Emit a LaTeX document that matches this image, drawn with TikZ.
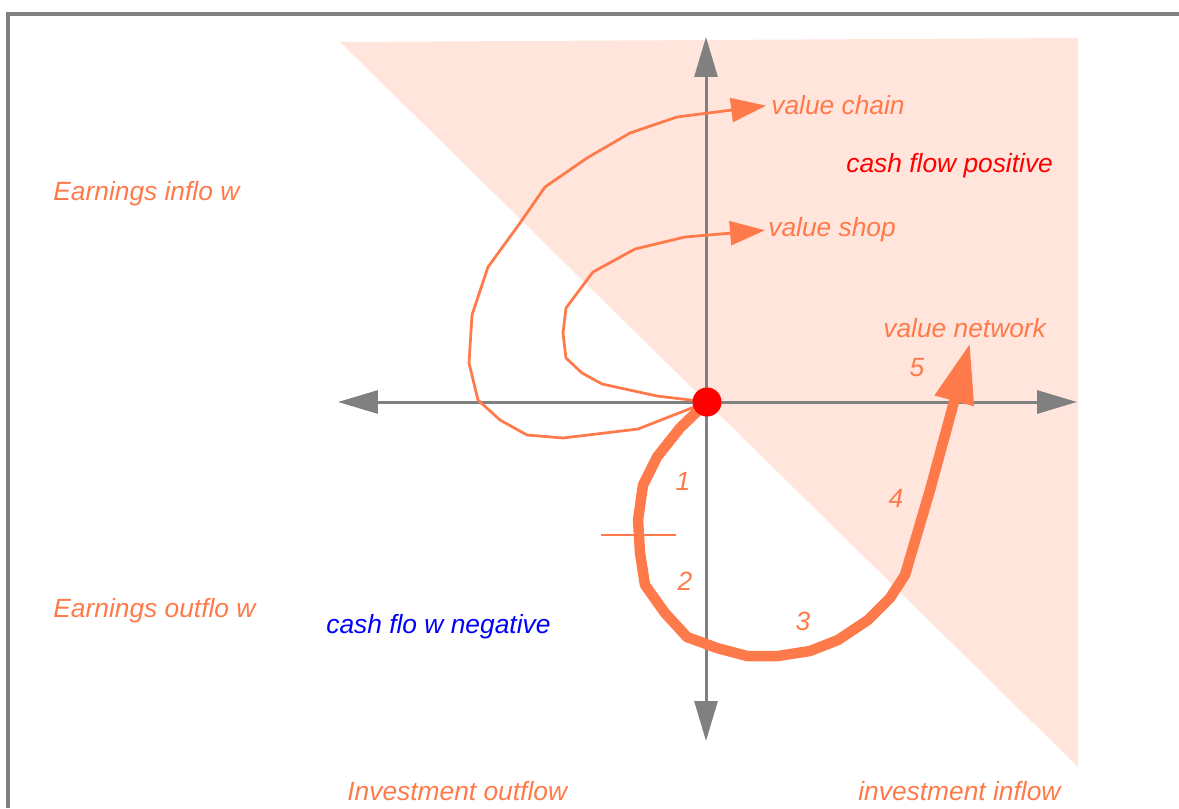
\documentclass[tikz,border=0pt]{standalone}
\usepackage{fontspec}
\setmainfont{Liberation Sans}
\usetikzlibrary{arrows.meta}
\definecolor{flow}{RGB}{255,122,74}
\definecolor{posregion}{RGB}{255,229,220}
\definecolor{axisgrey}{RGB}{128,128,128}

\begin{document}
\begin{tikzpicture}[x=0.02cm, y=-0.02cm,
    axis/.style={axisgrey, line width=0.06cm,
      {Triangle[length=0.8cm,width=0.46cm]}-{Triangle[length=0.8cm,width=0.46cm]}},
    thinflow/.style={flow, line width=0.055cm, line join=round},
    thickflow/.style={flow, line width=0.21cm, line join=bevel},
    lbl/.style={flow, inner sep=0pt, anchor=west, font=\fontsize{15}{18}\selectfont\itshape},
    num/.style={flow, inner sep=0pt, font=\fontsize{15}{18}\selectfont\itshape}]
  \useasboundingbox (0,0) rectangle (1179,808);
  % frame
  \draw[axisgrey, line width=0.08cm] (8,808) -- (8,14) -- (1179,14);
  % positive cash flow region
  \fill[posregion] (340,42) -- (1078,38) -- (1078,767) -- cycle;
  % axes
  \coordinate (W) at (338,402);
  \coordinate (E) at (1077,402);
  \coordinate (N) at (706,37);
  \coordinate (S) at (706,741);
  \draw[axis] (W) -- (E);
  \draw[axis] (N) -- (S);
  \coordinate (O) at (707,402);
  % labels
  \node[lbl] (earnin) at (53,194) {Earnings inflo w};
  \node[lbl] (earnout) at (53,611) {Earnings outflo w};
  \node[lbl, blue] (neg) at (326,627) {cash flo w negative};
  \node[lbl, red] (pos) at (846,166) {cash flow positive};
  \node[lbl] (invout) at (347,791) {Investment outflow};
  \node[lbl] (invin) at (858,791) {investment inflow};
  \node[lbl] (chain) at (771,105) {value chain};
  \node[lbl] (shop) at (768,230) {value shop};
  \node[lbl] (network) at (883,328) {value network};
  \foreach \n/\x/\y in {1/683/481, 2/685/581, 3/803/621, 4/896/498, 5/917/368}
    \node[num] (n\n) at (\x,\y) {\n};
  % value chain and value shop
  \draw[thinflow, -{Triangle[length=0.7cm,width=0.48cm]}, shorten >=0.1cm]
    (O) -- (638,429) -- (563,438) -- (527,435) -- (500,420) -- (478,400)
    -- (469,363) -- (472,315) -- (488,267) -- (520,223) -- (545,187)
    -- (587,158) -- (630,133) -- (677,117) -- (chain.west);
  \draw[thinflow, -{Triangle[length=0.7cm,width=0.48cm]}, shorten >=0.06cm]
    (O) -- (657,396) -- (602,384) -- (582,373) -- (566,358) -- (563,333)
    -- (566,308) -- (593,272) -- (635,249) -- (685,237) -- (shop.west);
  % value network
  \coordinate (nettip) at (970,343);
  \draw[thickflow, -{Triangle[length=1.2cm,width=0.76cm]}]
    (O) -- (680,428) -- (657,457) -- (643,485) -- (638,520) -- (640,553)
    -- (645,585) -- (665,613) -- (687,637) -- (717,648) -- (747,656)
    -- (778,656) -- (810,651) -- (838,640) -- (868,620) -- (890,598)
    -- (905,575) -- (930,490) -- (nettip);
  \draw[thinflow] (601,535) -- (676,535);
  \node[circle, fill=red, inner sep=0pt, minimum size=0.58cm] (dot) at (O) {};
\end{tikzpicture}
\end{document}
